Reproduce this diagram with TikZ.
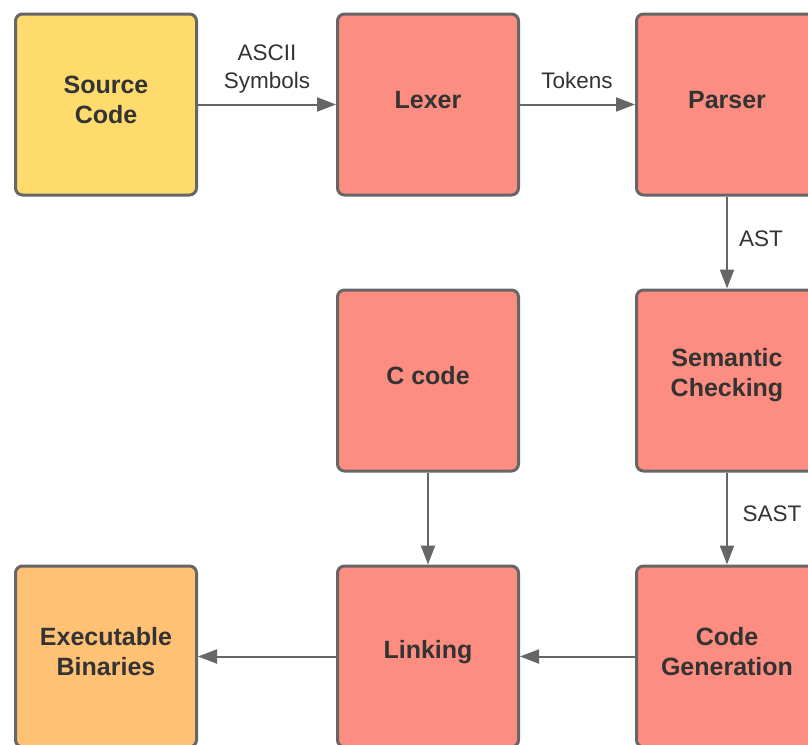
\documentclass[tikz,border=0pt]{standalone}
\usepackage{fontspec}
\setmainfont{Liberation Sans}
\usetikzlibrary{arrows.meta}
\definecolor{boxred}{HTML}{FC8D80}
\definecolor{boxyellow}{HTML}{FFDB6E}
\definecolor{boxorange}{HTML}{FFC174}
\definecolor{edgegray}{HTML}{666666}
\definecolor{txt}{HTML}{333333}
\tikzset{
  stage/.style={draw=edgegray, line width=3pt, rounded corners=7pt, minimum width=181pt, minimum height=181pt, inner sep=0pt},
  stagetext/.style={text=txt, align=center, inner sep=0pt, font=\fontsize{25}{30}\selectfont\bfseries},
  flow/.style={draw=edgegray, line width=2pt, -{Triangle[length=19pt,width=14pt]}},
  lbl/.style={text=txt, align=center, font=\fontsize{22.5}{28}\selectfont, inner sep=0pt}
}
\begin{document}
\begin{tikzpicture}[x=1pt,y=-1pt]
\useasboundingbox (0,0) rectangle (808,744);
\clip (0,0) rectangle (808,744);
\fill[white] (0,0) rectangle (808,744);
\node[stage, fill=boxyellow] (src) at (106,104.5) {};
\node[stage, fill=boxred] (lex) at (428,104.5) {};
\node[stage, fill=boxred] (par) at (727,104.5) {};
\node[stage, fill=boxred] (cc) at (428,380.5) {};
\node[stage, fill=boxred] (sem) at (727,380.5) {};
\node[stage, fill=boxorange] (exe) at (106,656.5) {};
\node[stage, fill=boxred] (lnk) at (428,656.5) {};
\node[stage, fill=boxred] (gen) at (727,656.5) {};
\node[stagetext] (srcT) at ([yshift=4.5pt]src.center) {Source\\Code};
\node[stagetext] (lexT) at ([yshift=4.5pt]lex.center) {Lexer};
\node[stagetext] (parT) at ([yshift=4.5pt]par.center) {Parser};
\node[stagetext] (ccT) at ([yshift=4.5pt]cc.center) {C code};
\node[stagetext] (semT) at ([yshift=5pt]sem.center) {Semantic\\Checking};
\node[stagetext] (exeT) at ([yshift=5pt]exe.center) {Executable\\Binaries};
\node[stagetext] (lnkT) at ([yshift=4.5pt]lnk.center) {Linking};
\node[stagetext] (genT) at ([yshift=5pt]gen.center) {Code\\Generation};
\draw[flow] (src) -- (lex);
\draw[flow] (lex) -- (par);
\draw[flow] (par) -- (sem);
\draw[flow] (sem) -- (gen);
\draw[flow] (cc) -- (lnk);
\draw[flow] (gen) -- (lnk);
\draw[flow] (lnk) -- (exe);
\node[lbl] (l1) at (267,69) {ASCII\\Symbols};
\node[lbl] (l2) at (577,80) {Tokens};
\node[lbl] (l3) at (761,239) {AST};
\node[lbl] (l4) at (772,514) {SAST};
\end{tikzpicture}
\end{document}
